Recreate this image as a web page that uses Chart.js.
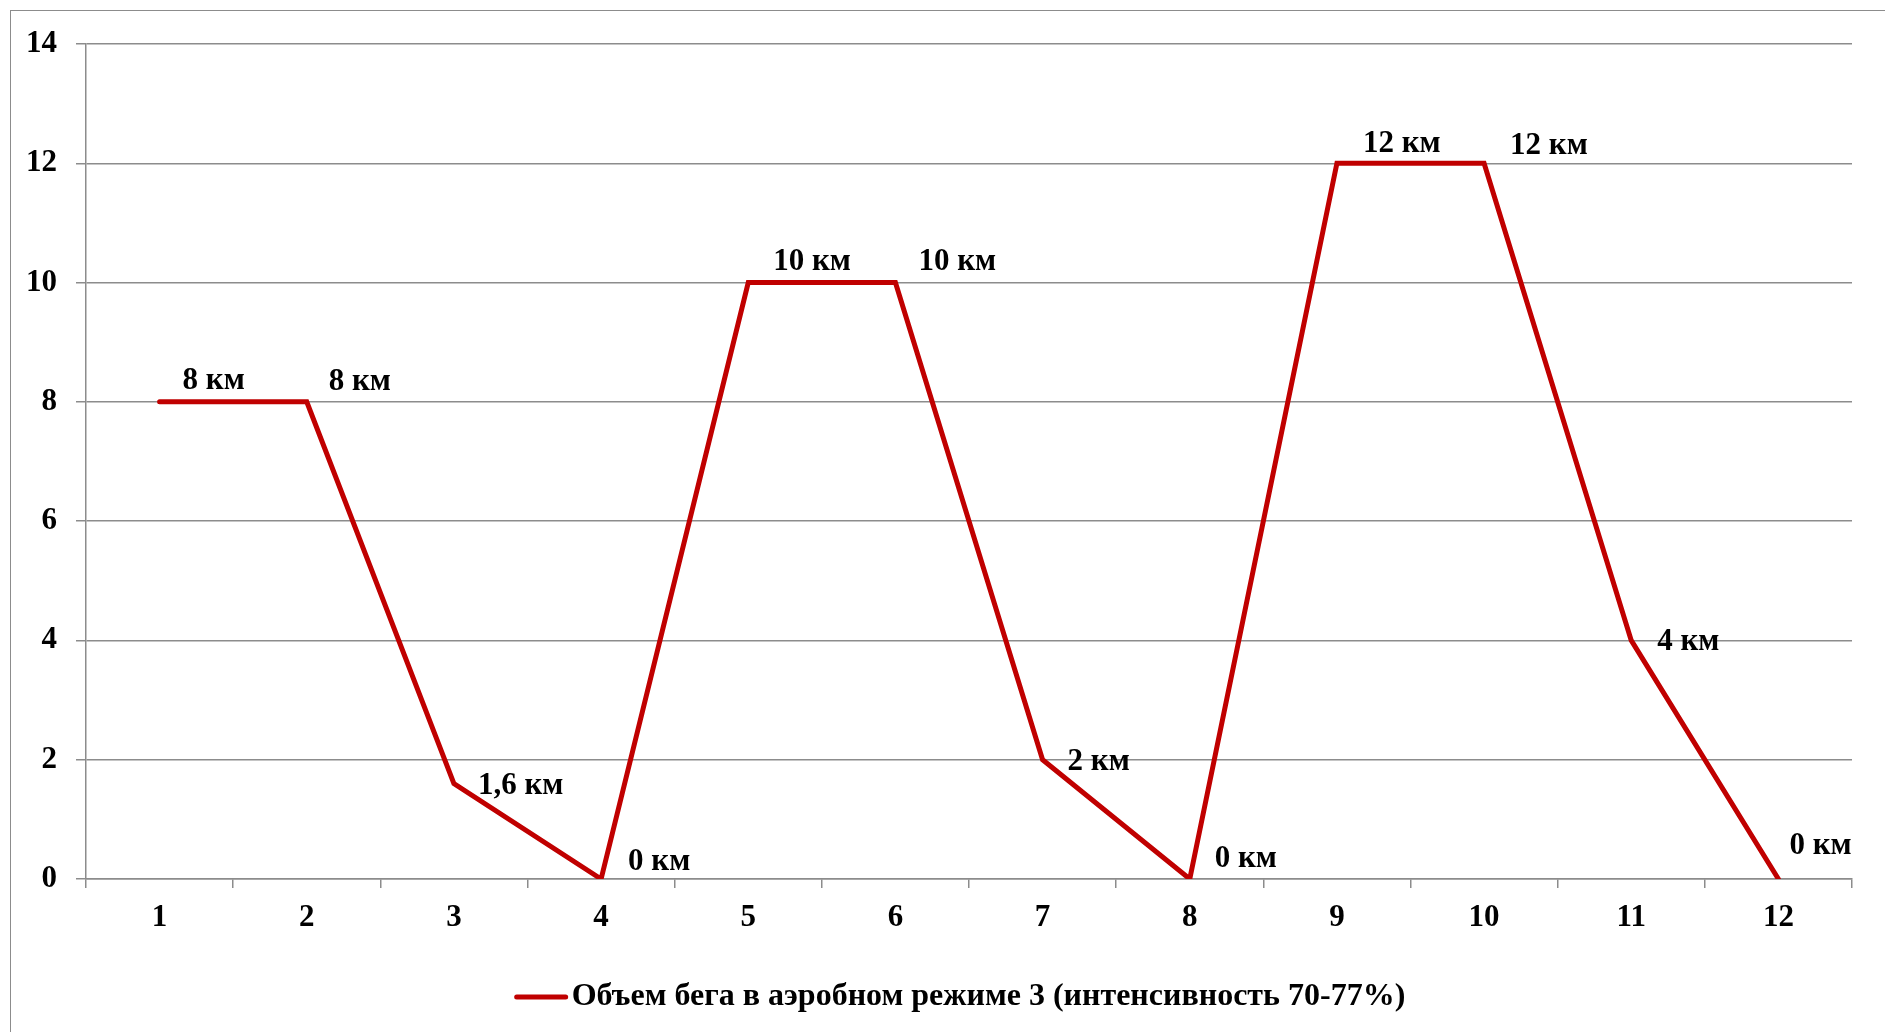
<!DOCTYPE html>
<html lang="ru">
<head>
<meta charset="UTF-8">
<title>Объем бега в аэробном режиме</title>
<script src="https://cdn.jsdelivr.net/npm/chart.js"></script>
<style>
    html, body { margin: 0; padding: 0; background: #fff; overflow: hidden; }
    #wrap { position: relative; width: 1885px; height: 1032px; }
    /* рамка области диаграммы (правый и нижний край за пределами окна) */
    #frame {
        position: absolute; left: 10px; top: 10px; width: 1950px; height: 1100px;
        border-left: 1.5px solid #8c8c8c; border-top: 1.5px solid #8c8c8c;
        pointer-events: none;
    }
    canvas { position: absolute; left: 0; top: 0; }
</style>
</head>
<body>
<div id="wrap">
    <canvas id="runChart" width="1885" height="1032"></canvas>
    <div id="frame"></div>
</div>

<script>
    // недели (подписи оси X)
    const weeks = ['1', '2', '3', '4', '5', '6', '7', '8', '9', '10', '11', '12'];
    // объем бега, км
    const volumeKm = [8, 8, 1.6, 0, 10, 10, 2, 0, 12, 12, 4, 0];
    // шкала оси Y
    const yMin = 0;
    const yMax = 14;
    const yStep = 2;
    const seriesName = 'Объем бега в аэробном режиме 3 (интенсивность 70-77%)';

    const FONT_FAMILY = '"Liberation Serif", "Times New Roman", serif';
    const GRID = '#8c8c8c';
    const RED = '#c00000';

    // сдвиг подписи относительно точки: [dx до левого края, dy до центра]
    const labelOffsets = [
        [23, -21], [22, -20], [24, 2], [27, -17], [25, -21], [23, -21],
        [25, 2], [25, -20], [26, -19], [26, -17], [26, 2], [11, -33]
    ];

    // подписи значений "N км" рядом с точками
    const kmLabels = {
        id: 'kmLabels',
        afterDatasetsDraw(chart) {
            const ctx = chart.ctx;
            const meta = chart.getDatasetMeta(0);
            ctx.save();
            ctx.font = 'bold 31px ' + FONT_FAMILY;
            ctx.fillStyle = '#000';
            ctx.textAlign = 'left';
            ctx.textBaseline = 'middle';
            meta.data.forEach((pt, i) => {
                const [dx, dy] = labelOffsets[i];
                const text = String(volumeKm[i]).replace('.', ',') + ' км';
                ctx.fillText(text, pt.x + dx, pt.y + dy);
            });
            ctx.restore();
        }
    };

    // легенда под осью: короткая линия серии и её название вплотную
    const bottomLegend = {
        id: 'bottomLegend',
        afterDraw(chart) {
            const ctx = chart.ctx;
            const ds = chart.data.datasets[0];
            const y = 997;
            ctx.save();
            ctx.font = 'bold 32px ' + FONT_FAMILY;
            const textW = ctx.measureText(ds.label).width;
            const lineW = 53, gap = 4;
            const x0 = 960 - (lineW + gap + textW) / 2;
            ctx.strokeStyle = ds.borderColor;
            ctx.lineWidth = 5;
            ctx.lineCap = 'round';
            ctx.beginPath();
            ctx.moveTo(x0 + 2, y);
            ctx.lineTo(x0 + lineW - 2, y);
            ctx.stroke();
            ctx.fillStyle = '#000';
            ctx.textAlign = 'left';
            ctx.textBaseline = 'middle';
            ctx.fillText(ds.label, x0 + lineW + gap, y);
            ctx.restore();
        }
    };

    const ctx = document.getElementById('runChart').getContext('2d');
    new Chart(ctx, {
        type: 'line',
        data: {
            labels: weeks,
            datasets: [{
                label: seriesName,
                data: volumeKm,
                borderColor: RED,
                backgroundColor: RED,
                borderWidth: 5,
                borderCapStyle: 'round',
                borderJoinStyle: 'miter',
                pointRadius: 0,
                tension: 0,
                fill: false
            }]
        },
        options: {
            responsive: false,
            animation: false,
            layout: { padding: { top: 44, right: 33, bottom: 56, left: 0 } },
            plugins: {
                tooltip: { enabled: false },
                legend: { display: false }
            },
            scales: {
                x: {
                    offset: true,
                    afterFit: (scale) => { scale.height = 97; },
                    grid: {
                        offset: true,
                        drawOnChartArea: false,
                        drawTicks: true,
                        tickLength: 9,
                        color: GRID,
                        lineWidth: 1.5
                    },
                    border: { display: true, color: GRID, width: 1.5 },
                    ticks: {
                        color: '#000',
                        padding: 11,
                        maxRotation: 0,
                        font: { family: FONT_FAMILY, size: 31, weight: 'bold' }
                    }
                },
                y: {
                    min: yMin,
                    max: yMax,
                    afterFit: (scale) => { scale.width = 86; },
                    grid: {
                        color: GRID,
                        lineWidth: 1.5,
                        drawTicks: true,
                        tickLength: 10
                    },
                    border: { display: true, color: GRID, width: 1.5 },
                    ticks: {
                        stepSize: yStep,
                        color: '#000',
                        padding: 19,
                        font: { family: FONT_FAMILY, size: 31, weight: 'bold' }
                    }
                }
            }
        },
        plugins: [kmLabels, bottomLegend]
    });
</script>
</body>
</html>
